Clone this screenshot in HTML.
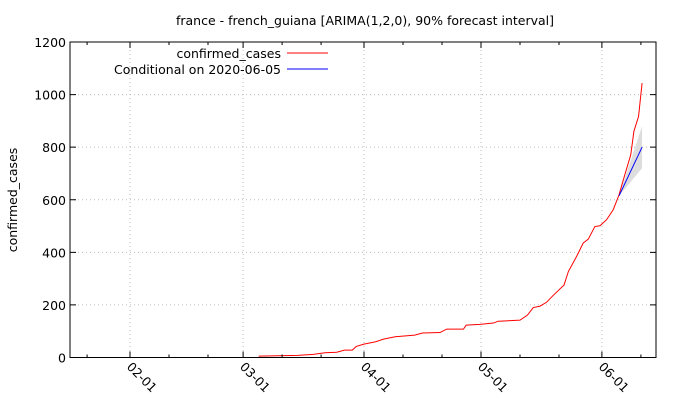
<!DOCTYPE html>
<html><head><meta charset="utf-8"><style>
body{margin:0;background:#fff;}
svg{display:block;font-family:"DejaVu Sans","Liberation Sans",sans-serif;}
</style></head><body>
<svg id="chart" width="680" height="400">
<text x="365" y="25" text-anchor="middle" font-size="12.5">france - french_guiana [ARIMA(1,2,0), 90% forecast interval]</text>
<text transform="translate(17,200) rotate(-90)" text-anchor="middle" font-size="12.5">confirmed_cases</text>
<g id="grid"></g><g id="band"></g><g id="lines"></g><g id="axes"></g>
<g>
<text x="281" y="58" text-anchor="end" font-size="12.5">confirmed_cases</text>
<line x1="287" y1="53" x2="328" y2="53" stroke="#f00"/>
<text x="281" y="74" text-anchor="end" font-size="12.5">Conditional on 2020-06-05</text>
<line x1="287" y1="69" x2="328" y2="69" stroke="#00f"/>
</g>
</svg>
<script>
const obsDays=[33,43,47,50,53,55,57,58,60,63,65,68,73,75,79.5,81.2,85.5,86.2,89.7,93.2,94.4,100,101.9,103.4,105.1,106.8,108.5,111.3,112.4,114.5,116.2,117.5,119.2,120.5,122.2,123.9,125.4,126.5,128.4,129.2,130.4,131.3];
const obsVals=[5,8,12,18,20,28,28,42,51,60,70,79,85,93,95,108,108,123,126,131,138,142,161,190,195,210,236,276,327,384,435,450,498,501,524,562,619,676,771,860,917,1044];
const fcDays=[125.4,131.3];
const fcVals=[615,800];
const fcUpper=[615,880];
const fcLower=[615,720];
const yTicks=[0,200,400,600,800,1000,1200];
const xTickDays=[0,29,60,90,121];
const xTickLabels=["02-01","03-01","04-01","05-01","06-01"];
const minorDays=[-11,10,20,39,49,70,80,100,110,131];
const L=70,R=656,T=42,B=357.5;
const X=d=>130+3.9*d;
const Y=v=>B-(v/1200)*(B-T);
const NS="http://www.w3.org/2000/svg";
function mk(parent,tag,attrs){const e=document.createElementNS(NS,tag);for(const k in attrs)e.setAttribute(k,attrs[k]);document.getElementById(parent).appendChild(e);return e;}
yTicks.forEach(v=>{
 if(v>0&&v<1200){const g=mk('grid','line',{x1:L,x2:R,y1:Y(v),y2:Y(v),stroke:'#bbb','stroke-dasharray':'1,3'});
 
 }
 const t=mk('axes','text',{x:66,y:Y(v)+5,'text-anchor':'end','font-size':12.5});t.textContent=v;
 
 
 const a=mk('axes','path',{d:`M${L},${Y(v)}h6M${R},${Y(v)}h-6`,stroke:'#000'});
 
 
});
xTickDays.forEach((d,i)=>{
 const x=X(d);
 const g=mk('grid','line',{x1:x,x2:x,y1:T,y2:B,stroke:'#bbb','stroke-dasharray':'1,3'});
 
 
 const a=mk('axes','path',{d:`M${x},${B}v-6M${x},${T}v6`,stroke:'#000'});
 
 
 const t=mk('axes','text',{transform:`translate(${x-4},${B+10}) rotate(45)`,'font-size':12.5});t.textContent=xTickLabels[i];
 
 
});
minorDays.forEach(d=>{const x=X(d);
 const a=mk('axes','path',{d:`M${x},${B}v-3M${x},${T}v3`,stroke:'#000'});
 
 });
const box=mk('axes','rect',{x:L,y:T,width:R-L,height:B-T,fill:'none',stroke:'#000'});


let bp=fcDays.map((d,i)=>X(d)+','+Y(fcUpper[i])).concat(fcDays.slice().reverse().map((d,j)=>{const i=fcDays.length-1-j;return X(d)+','+Y(fcLower[i]);}));
const band=mk('band','polygon',{points:bp.join(' '),fill:'#ddd'});


const obs=mk('lines','polyline',{points:obsDays.map((d,i)=>X(d)+','+Y(obsVals[i])).join(' '),fill:'none',stroke:'#f00'});


const fc=mk('lines','polyline',{points:fcDays.map((d,i)=>X(d)+','+Y(fcVals[i])).join(' '),fill:'none',stroke:'#00f'});


</script>
</body></html>
